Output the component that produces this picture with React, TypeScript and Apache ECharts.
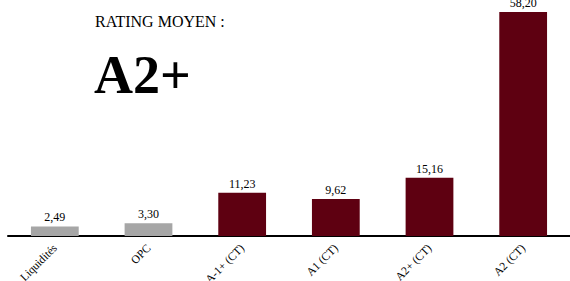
import React, { useEffect, useRef } from "react";
import * as echarts from "echarts";

const categories = ["Liquidités", "OPC", "A-1+ (CT)", "A1 (CT)", "A2+ (CT)", "A2 (CT)"];
const values = [2.49, 3.3, 11.23, 9.62, 15.16, 58.2];
const barColors = ["#a6a6a6", "#a6a6a6", "#5e0011", "#5e0011", "#5e0011", "#5e0011"];

const FONT = "Liberation Serif";

export default function App() {
  const ref = useRef<HTMLDivElement>(null);
  useEffect(() => {
    const chart = echarts.init(ref.current!, null, { renderer: "svg" });
    chart.setOption({
      animation: false,
      grid: { left: 8, right: 0, top: 5, bottom: 45, containLabel: false, outerBoundsMode: "none" },
      graphic: [
        {
          type: "text",
          left: 95,
          top: 13,
          style: { text: "RATING MOYEN :", font: `16px '${FONT}'`, fill: "#000" },
        },
        {
          type: "text",
          left: 94,
          top: 48,
          style: { text: "A2+", font: `bold 54px '${FONT}'`, fill: "#000" },
        },
      ],
      xAxis: {
        type: "category",
        data: categories,
        axisLine: { lineStyle: { color: "#000", width: 2 } },
        axisTick: { show: false },
        axisLabel: {
          rotate: 45,
          interval: 0,
          fontFamily: FONT,
          fontSize: 11.5,
          color: "#000",
          margin: 10,
        },
      },
      yAxis: {
        type: "value",
        min: 0,
        max: 60,
        show: false,
        splitLine: { show: false },
      },
      series: [
        {
          type: "bar",
          barWidth: "51%",
          data: values.map((v, i) => ({ value: v, itemStyle: { color: barColors[i] } })),
          label: {
            show: true,
            position: "top",
            distance: 3,
            fontFamily: FONT,
            fontSize: 12,
            color: "#000",
            formatter: (p: any) => p.value.toFixed(2).replace(".", ","),
          },
        },
      ],
    });
    return () => chart.dispose();
  }, []);
  return <div ref={ref} style={{ width: 570, height: 281, position: "absolute", left: 0, top: 0 }} />;
}
